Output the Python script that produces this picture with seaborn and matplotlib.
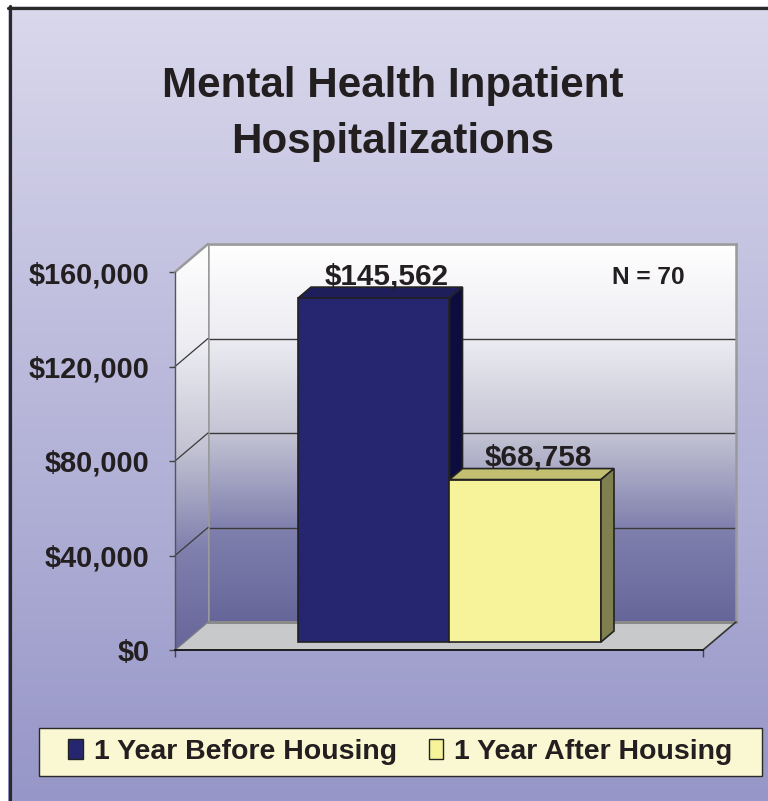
import numpy as np
import matplotlib
matplotlib.use('Agg')
import matplotlib.pyplot as plt
from matplotlib import font_manager
from matplotlib.colors import LinearSegmentedColormap
from matplotlib.patches import Polygon, Rectangle, Patch
from matplotlib.lines import Line2D
from matplotlib.transforms import ScaledTranslation
import seaborn as sns

# data
periods = ['1 Year Before Housing', '1 Year After Housing']
costs = [145562, 68758]
cost_labels = ['$145,562', '$68,758']
y_ticks = [0, 40000, 80000, 120000, 160000]
y_tick_labels = ['$0', '$40,000', '$80,000', '$120,000', '$160,000']
title_lines = ['Mental Health Inpatient', 'Hospitalizations']
note = 'N = 70'

front_colors = ['#262670', '#f7f39b']
top_colors = ['#1e1e5a', '#c2c070']
side_colors = ['#0c0c3e', '#7f7f4f']

sns.set_theme(style='white')
installed = {f.name for f in font_manager.fontManager.ttflist}
if 'Liberation Sans Narrow' in installed:
    FONT, K = 'Liberation Sans Narrow', 1.0
else:
    FONT, K = 'Liberation Sans', 0.82
plt.rcParams['font.family'] = [FONT, 'DejaVu Sans']
plt.rcParams['font.weight'] = 'bold'
INK = '#231f20'

W, H, DPI = 768, 801, 100
fig = plt.figure(figsize=(W / DPI, H / DPI), dpi=DPI, facecolor='white')


def rect(l, t, r, b):
    # pixel box -> figure fraction
    return [l / W, 1 - b / H, (r - l) / W, (b - t) / H]


def off(px, py):
    return ScaledTranslation(px / DPI, py / DPI, fig.dpi_scale_trans)


# background panel with gradient
bg = fig.add_axes(rect(8, 6, W, H))
bg.set_axis_off()
grad = np.linspace(0, 1, 256).reshape(-1, 1)
bg_cmap = LinearSegmentedColormap.from_list('bg', ['#dad8ec', '#9696c8'])
bg.imshow(grad, cmap=bg_cmap, aspect='auto', extent=[0, 1, 0, 1])
fig.add_artist(Line2D([9.5 / W, 9.5 / W], [0, 1 - 6 / H], transform=fig.transFigure,
                      color='#2a2a2a', lw=2.3))
fig.add_artist(Line2D([8 / W, 1], [1 - 7.5 / H, 1 - 7.5 / H], transform=fig.transFigure,
                      color='#2a2a2a', lw=2.3))

wall_cmap = LinearSegmentedColormap.from_list(
    'wall', [(0, '#66669a'), (0.25, '#8080ae'), (0.5, '#c4c4d4'), (0.75, '#ececf2'), (1, '#ffffff')])

# layout of the 3d box (pixels)
FL, FT, FR, FB = 175, 272, 703, 650   # front plane
WDX, WDY = 33, 28                     # depth of the back wall
BFX, BFY = 9, 8                       # bar front offset
BDX, BDY = 13, 11                     # bar depth
XLIM = (-1.2525, 2.2327)
YLIM = (0, 160000)

# back wall
ax_wall = fig.add_axes(rect(FL + WDX, FT - WDY, FR + WDX, FB - WDY))
ax_wall.imshow(grad, cmap=wall_cmap, aspect='auto', origin='lower',
               extent=[XLIM[0], XLIM[1], YLIM[0], YLIM[1]])
ax_wall.set_xlim(XLIM)
ax_wall.set_ylim(YLIM)
ax_wall.set_yticks(y_ticks)
ax_wall.set_xticks([])
ax_wall.tick_params(left=False, labelleft=False)
ax_wall.grid(axis='y', color='#3a3a3a', lw=1.0)
for s in ax_wall.spines.values():
    s.set_color('#9a9a9a')
    s.set_linewidth(1.8)

# front axes
ax = fig.add_axes(rect(FL, FT, FR, FB))
ax.set_facecolor('none')
sns.barplot(x=periods, y=costs, hue=periods, palette=front_colors, width=1,
            saturation=1, legend=False, edgecolor='#222222', linewidth=1.2, ax=ax)

ppx = ax.bbox.width / (XLIM[1] - XLIM[0])
ppy = ax.bbox.height / (YLIM[1] - YLIM[0])
wdx, wdy = WDX / ppx, WDY / ppy
xl, xr = XLIM
ymax = YLIM[1]

# side wall
side_poly = Polygon([(xl, 0), (xl + wdx, wdy), (xl + wdx, ymax + wdy), (xl, ymax)],
                    closed=True, transform=ax.transData)
im = ax.imshow(grad, cmap=wall_cmap, aspect='auto', origin='lower',
               extent=[xl, xl + wdx, 0, ymax + wdy], zorder=0.5)
im.set_clip_path(side_poly)
im.set_clip_box(fig.bbox)
ax.plot([xl, xl + wdx], [ymax, ymax + wdy], color='#9a9a9a', lw=1.8, clip_on=False, zorder=0.6)
for y in y_ticks[1:-1]:
    ax.plot([xl, xl + wdx], [y, y + wdy], color='#3a3a3a', lw=0.9, clip_on=False, zorder=0.6)

# floor
floor = Polygon([(xl, 0), (xr, 0), (xr + wdx, wdy), (xl + wdx, wdy)], closed=True,
                facecolor='#c8c9cb', edgecolor='none', clip_on=False, zorder=1)
ax.add_patch(floor)
ax.plot([xl + wdx, xr + wdx], [wdy, wdy], color='#8a8a8a', lw=2.2, clip_on=False, zorder=1.1)
ax.plot([xr, xr + wdx], [0, wdy], color='#333333', lw=1.2, clip_on=False, zorder=1.1)
ax.plot([xl, xl + wdx], [0, wdy], color='#7a7a8a', lw=1.0, clip_on=False, zorder=1.1)

# 3d bars
bdx, bdy = BDX / ppx, BDY / ppy
shift = ax.transData + off(BFX, BFY)
for i, p in enumerate(ax.patches[:len(costs)]):
    x0, w, h = p.get_x(), p.get_width(), p.get_height()
    z = 3 + i
    p.set_transform(shift)
    p.set_clip_on(False)
    p.set_zorder(z)
    top = Polygon([(x0, h), (x0 + w, h), (x0 + w + bdx, h + bdy), (x0 + bdx, h + bdy)],
                  closed=True, transform=shift, facecolor=top_colors[i],
                  edgecolor='#222222', lw=1.2, clip_on=False, zorder=z)
    side = Polygon([(x0 + w, 0), (x0 + w + bdx, bdy), (x0 + w + bdx, h + bdy), (x0 + w, h)],
                   closed=True, transform=shift, facecolor=side_colors[i],
                   edgecolor='#222222', lw=1.2, clip_on=False, zorder=z)
    ax.add_patch(top)
    ax.add_patch(side)
    ax.text(x0 + w / 2, h, cost_labels[i], transform=ax.transData + off(BFX + BDX, BFY + BDY + 3),
            ha='center', va='baseline', fontsize=26 * K, color=INK, zorder=10)

ax.set_xlim(XLIM)
ax.set_ylim(YLIM)
ax.set_yticks(y_ticks, y_tick_labels)
ax.set_xticks([xl, xr], ['', ''])
ax.tick_params(axis='y', left=True, length=4.4, width=1, color='#444444', pad=14,
               labelsize=25.5 * K, labelcolor=INK)
ax.tick_params(axis='x', bottom=True, length=5, width=1, color='#444444')
ax.spines['top'].set_visible(False)
ax.spines['right'].set_visible(False)
ax.spines['left'].set_color('#555555')
ax.spines['left'].set_linewidth(1.0)
ax.spines['bottom'].set_color('#111111')
ax.spines['bottom'].set_linewidth(1.3)
ax.set_xlabel('')
ax.set_ylabel('')

ax.text((648 - FL) / (FR - FL), (FB - 284) / (FB - FT), note, transform=ax.transAxes,
        ha='center', va='baseline', fontsize=21.5 * K, color=INK, zorder=10)

# title
fig.text(393 / W, 1 - 97 / H, title_lines[0], ha='center', va='baseline',
         fontsize=37 * K, color=INK)
fig.text(393 / W, 1 - 153 / H, title_lines[1], ha='center', va='baseline',
         fontsize=37 * K, color=INK)

# legend box
fig.add_artist(Rectangle((39 / W, 1 - 776 / H), (762 - 39) / W, 48 / H,
                         transform=fig.transFigure, facecolor='#faf8d2',
                         edgecolor='#2a2a2a', lw=1.0, zorder=1))
handles = [Patch(facecolor=c, edgecolor='#222222', lw=1.0) for c in front_colors]
fig.legend(handles, periods, loc='center', bbox_to_anchor=((39 + 762) / 2 / W, 1 - 752 / H),
           ncol=2, frameon=False, fontsize=25 * K, labelcolor=INK,
           handlelength=0.50, handleheight=0.68, handletextpad=0.40, columnspacing=1.10)

fig.savefig('out.png', dpi=DPI)
